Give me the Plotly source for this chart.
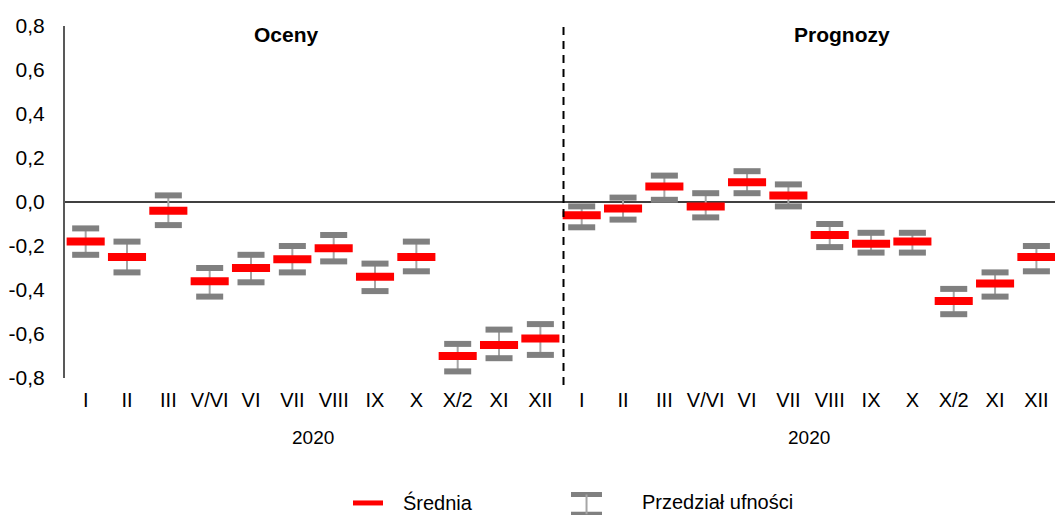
import plotly.graph_objects as go

months = ["I", "II", "III", "V/VI", "VI", "VII", "VIII", "IX", "X", "X/2", "XI", "XII"]
categories = months + months
groups = ["Oceny", "Prognozy"]
year_label = "2020"

mean_vals = [-0.18, -0.25, -0.04, -0.36, -0.30, -0.26, -0.21, -0.34, -0.25, -0.70, -0.65, -0.62,
             -0.06, -0.03, 0.07, -0.02, 0.09, 0.03, -0.15, -0.19, -0.18, -0.45, -0.37, -0.25]
upper_vals = [-0.12, -0.18, 0.03, -0.30, -0.24, -0.20, -0.15, -0.28, -0.18, -0.645, -0.58, -0.555,
              -0.02, 0.02, 0.12, 0.04, 0.14, 0.08, -0.10, -0.14, -0.14, -0.395, -0.32, -0.20]
lower_vals = [-0.24, -0.32, -0.105, -0.43, -0.365, -0.32, -0.27, -0.405, -0.315, -0.77, -0.71, -0.695,
              -0.115, -0.08, 0.01, -0.07, 0.04, -0.02, -0.205, -0.23, -0.23, -0.51, -0.43, -0.315]

y_tickvals = [-0.8, -0.6, -0.4, -0.2, 0.0, 0.2, 0.4, 0.6, 0.8]
y_ticktext = ["-0,8", "-0,6", "-0,4", "-0,2", "0,0", "0,2", "0,4", "0,6", "0,8"]

x = list(range(len(categories)))
FONT = "Liberation Sans, Arial, sans-serif"

fig = go.Figure()

# whiskers
fig.add_trace(go.Scatter(
    x=x, y=mean_vals, mode="markers", marker=dict(size=1, opacity=0),
    error_y=dict(type="data", symmetric=False,
                 array=[u - m for u, m in zip(upper_vals, mean_vals)],
                 arrayminus=[m - l for m, l in zip(mean_vals, lower_vals)],
                 width=0, thickness=2, color="#a6a6a6"),
    showlegend=False, hoverinfo="skip"))

# caps
for vals in (upper_vals, lower_vals):
    fig.add_trace(go.Scatter(
        x=x, y=vals, mode="markers",
        marker=dict(symbol="line-ew", size=19.3, line=dict(width=6, color="#808080")),
        showlegend=False, hoverinfo="skip"))

# means
fig.add_trace(go.Scatter(
    x=x, y=mean_vals, mode="markers",
    marker=dict(symbol="line-ew", size=27.2, line=dict(width=8, color="#ff0000")),
    showlegend=False, name="Średnia"))

shapes = [
    # dashed separator
    dict(type="line", xref="x", yref="paper", x0=11.56, x1=11.56, y0=-0.02, y1=1,
         line=dict(color="#000000", width=2, dash="8px,6px"), layer="above"),
    # legend: mean
    dict(type="line", xref="paper", yref="paper", x0=0.2909, x1=0.3212, y0=-0.355, y1=-0.355,
         line=dict(color="#ff0000", width=5)),
    # legend: interval icon
    dict(type="line", xref="paper", yref="paper", x0=0.5111, x1=0.5424, y0=-0.331, y1=-0.331,
         line=dict(color="#808080", width=5)),
    dict(type="line", xref="paper", yref="paper", x0=0.5111, x1=0.5424, y0=-0.387, y1=-0.387,
         line=dict(color="#808080", width=5)),
    dict(type="line", xref="paper", yref="paper", x0=0.5268, x1=0.5268, y0=-0.331, y1=-0.387,
         line=dict(color="#a6a6a6", width=2)),
]

annotations = [
    dict(text="<b>" + groups[0] + "</b>", x=4.87, y=0.76, xref="x", yref="y", showarrow=False,
         yanchor="middle", font=dict(size=21, color="#000000", family=FONT)),
    dict(text="<b>" + groups[1] + "</b>", x=18.3, y=0.76, xref="x", yref="y", showarrow=False,
         yanchor="middle", font=dict(size=21, color="#000000", family=FONT)),
    dict(text=year_label, x=5.5, y=-0.168, xref="x", yref="paper", showarrow=False,
         yanchor="middle", font=dict(size=19, color="#000000", family=FONT)),
    dict(text=year_label, x=17.5, y=-0.168, xref="x", yref="paper", showarrow=False,
         yanchor="middle", font=dict(size=19, color="#000000", family=FONT)),
    dict(text="Średnia", x=0.3404, y=-0.353, xref="paper", yref="paper", xanchor="left",
         yanchor="middle", showarrow=False, borderpad=0,
         font=dict(size=20, color="#000000", family=FONT)),
    dict(text="Przedział ufności", x=0.5818, y=-0.353, xref="paper", yref="paper", xanchor="left",
         yanchor="middle", showarrow=False, borderpad=0,
         font=dict(size=20, color="#000000", family=FONT)),
]

fig.update_layout(
    width=1055, height=515,
    margin=dict(l=65, r=0, t=26, b=137, autoexpand=False),
    paper_bgcolor="white", plot_bgcolor="white",
    font=dict(family=FONT, size=20, color="#000000"),
    showlegend=False,
    shapes=shapes, annotations=annotations,
    xaxis=dict(range=[-0.5, 23.45], tickmode="array", tickvals=x, ticktext=categories,
               showgrid=False, zeroline=False, showline=False, ticks="", automargin=False,
               ticklabelstandoff=8, tickfont=dict(size=20)),
    yaxis=dict(range=[-0.8, 0.8], tickmode="array", tickvals=y_tickvals, ticktext=y_ticktext,
               showgrid=False, zeroline=True, zerolinecolor="#404040", zerolinewidth=2,
               showline=True, linecolor="#595959", linewidth=2, ticks="", automargin=False,
               ticklabelstandoff=14, tickfont=dict(size=21)),
)

fig.write_html("out.html", config={"displayModeBar": False},
               post_script="document.body.style.margin='0';document.body.style.overflow='hidden';")
